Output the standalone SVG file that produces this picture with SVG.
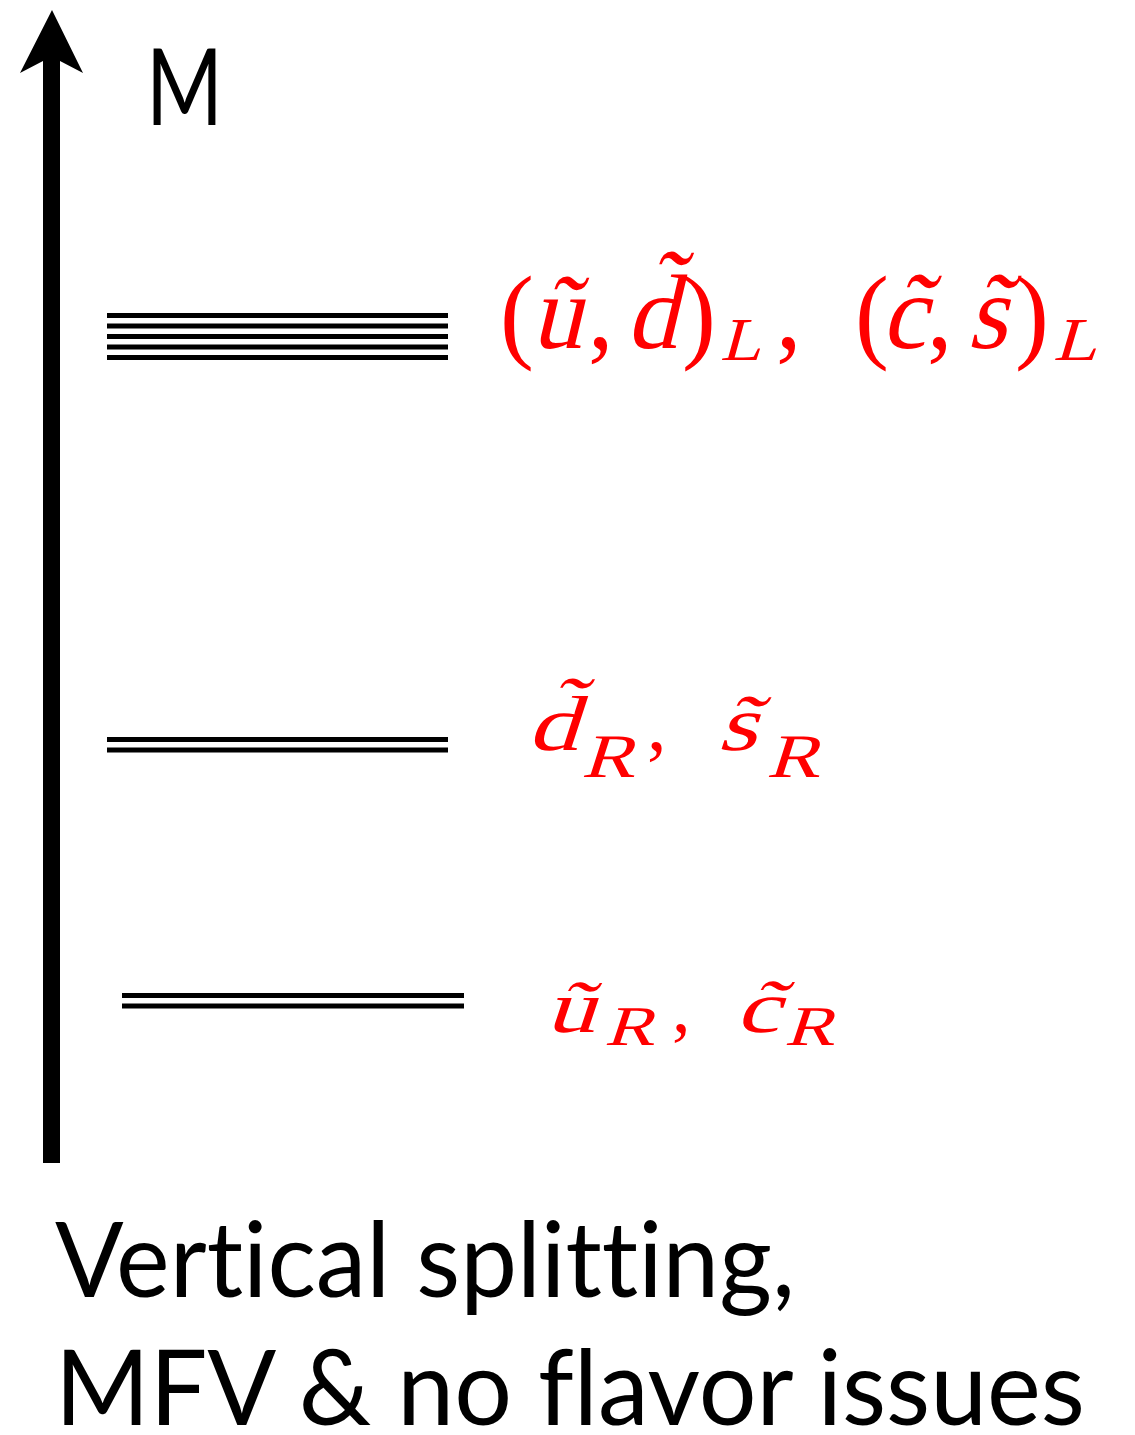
<svg xmlns="http://www.w3.org/2000/svg" width="1135" height="1435" viewBox="0 0 1135 1435">
<style>
.lvl{stroke:#000;stroke-width:5;fill:none}
.m{font-family:'Liberation Serif','DejaVu Serif',serif;font-style:normal;fill:#ff0000}
.u{font-family:'Liberation Serif','DejaVu Serif',serif;fill:#ff0000}
.t{font-family:Lato,"Open Sans",sans-serif;fill:#000;font-variant-ligatures:none}
</style>
<rect width="1135" height="1435" fill="#fff"/>
<g id="axis">
<polygon points="52,10 83,73 60,61 60,1163 43,1163 43,61 20,73" fill="#000"/>
<text class="t" x="146" y="125" font-size="106" textLength="77" lengthAdjust="spacingAndGlyphs">M</text>
</g>
<g id="level-top">
<path class="lvl" d="M107,315.5H448M107,326H448M107,336.5H448M107,347H448M107,357.5H448"/>
<text class="u" transform="translate(500,349) scale(0.96,1)" font-size="106">(</text>
<text class="m" transform="translate(531,348) scale(0.96,1) skewX(-14)" font-size="106">ũ</text>
<text class="u" transform="translate(588,348) scale(0.96,1)" font-size="106">,</text>
<text class="m" transform="translate(626,348) scale(0.96,1) skewX(-14)" font-size="106">d̃</text>
<text class="u" transform="translate(682,349) scale(0.96,1)" font-size="106">)</text>
<text class="m" transform="translate(720,360) scale(1.1,1) skewX(-14)" font-size="61">L</text>
<text class="u" transform="translate(776,348) scale(0.96,1)" font-size="106">,</text>
<text class="u" transform="translate(855,349) scale(0.96,1)" font-size="106">(</text>
<text class="m" transform="translate(881,348) scale(0.96,1) skewX(-14)" font-size="106">c̃</text>
<text class="u" transform="translate(927,348) scale(0.96,1)" font-size="106">,</text>
<text class="m" transform="translate(967,348) scale(0.96,1) skewX(-14)" font-size="106">s̃</text>
<text class="u" transform="translate(1015,349) scale(0.96,1)" font-size="106">)</text>
<text class="m" transform="translate(1053,360) scale(1.18,1) skewX(-14)" font-size="61">L</text>
</g>
<g id="level-mid">
<path class="lvl" d="M107,739.5H448M107,750H448"/>
<text class="m" transform="translate(527,750) scale(1.3,1) skewX(-14)" font-size="78">d̃</text>
<text class="m" transform="translate(581,777) scale(1.28,1) skewX(-14)" font-size="62">R</text>
<text class="u" x="647" y="750" font-size="78">,</text>
<text class="m" transform="translate(717,750) scale(1.3,1) skewX(-14)" font-size="78">s̃</text>
<text class="m" transform="translate(766,777) scale(1.28,1) skewX(-14)" font-size="62">R</text>
</g>
<g id="level-bot">
<path class="lvl" d="M122,995.5H464M122,1006H464"/>
<text class="m" transform="translate(545,1032) scale(1.35,1) skewX(-14)" font-size="74">ũ</text>
<text class="m" transform="translate(604,1045) scale(1.33,1) skewX(-14)" font-size="56">R</text>
<text class="u" x="672" y="1032" font-size="74">,</text>
<text class="m" transform="translate(735,1032) scale(1.35,1) skewX(-14)" font-size="74">c̃</text>
<text class="m" transform="translate(784,1045) scale(1.33,1) skewX(-14)" font-size="56">R</text>
</g>
<g id="caption">
<text class="t" x="55" y="1297" font-size="104" textLength="740" lengthAdjust="spacingAndGlyphs">Vertical splitting,</text>
<text class="t" x="55" y="1425" font-size="104" textLength="1030" lengthAdjust="spacingAndGlyphs">MFV &amp; no flavor issues</text>
</g>
</svg>
